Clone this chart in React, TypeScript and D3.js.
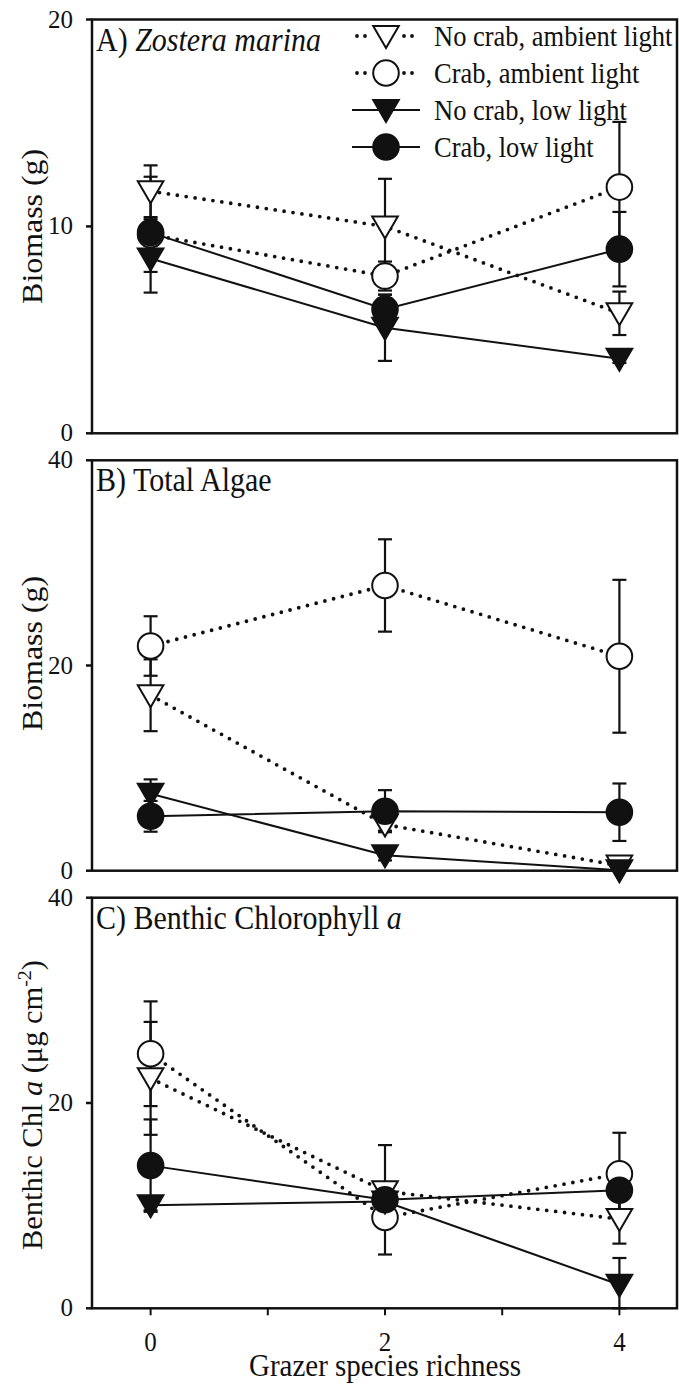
import React from "react";
import * as d3 from "d3";

// ---------- data ----------
const richness = [0, 2, 4];
const xTicksMajor = [0, 2, 4];
const xTicksMinor = [1, 3];
const seriesLabels = [
  "No crab, ambient light",
  "Crab, ambient light",
  "No crab, low light",
  "Crab, low light",
];

// Panel A: Zostera marina biomass (g)
const zosNoCrabAmb = [11.7, 10.0, 5.8];
const zosNoCrabAmbSE = [1.25, 2.3, 1.05];
const zosCrabAmb = [9.6, 7.6, 11.9];
const zosCrabAmbSE = [2.8, 0.7, 3.15];
const zosNoCrabLow = [8.45, 5.1, 3.6];
const zosNoCrabLowSE = [0.65, 1.6, 0.2];
const zosCrabLow = [9.7, 6.0, 8.9];
const zosCrabLowSE = [0.65, 0.7, 1.8];

// Panel B: Total algae biomass (g)
const algNoCrabAmb = [17.1, 4.5, 0.5];
const algNoCrabAmbSE = [3.5, 0.6, 0.2];
const algCrabAmb = [21.9, 27.8, 20.9];
const algCrabAmbSE = [2.9, 4.5, 7.45];
const algNoCrabLow = [7.5, 1.5, 0.05];
const algNoCrabLowSE = [1.4, 0.5, 0.2];
const algCrabLow = [5.3, 5.8, 5.7];
const algCrabLowSE = [1.5, 2.05, 2.8];

// Panel C: Benthic chlorophyll a (µg cm-2)
const chlNoCrabAmb = [22.4, 11.4, 8.7];
const chlNoCrabAmbSE = [5.5, 0.6, 2.4];
const chlCrabAmb = [24.8, 8.85, 13.1];
const chlCrabAmbSE = [5.1, 0.8, 4.0];
const chlNoCrabLow = [10.05, 10.4, 2.3];
const chlNoCrabLowSE = [0.5, 0.5, 2.6];
const chlCrabLow = [13.9, 10.57, 11.5];
const chlCrabLowSE = [4.5, 5.33, 2.5];

const yTicksA = [0, 10, 20];
const yTicksB = [0, 20, 40];
const yTicksC = [0, 20, 40];

// ---------- layout ----------
const W = 679;
const H = 1384;
const LEFT = 92;
const RIGHT = 677;
const FONT = "'Liberation Serif', 'Times New Roman', serif";
const SY = 1.12; // glyphs in the reference are vertically elongated

const x = d3.scaleLinear().domain([-0.5, 4.5]).range([LEFT, RIGHT + 1]);

type Kind = "triOpen" | "circOpen" | "triFill" | "circFill";
const kinds: Kind[] = ["triOpen", "circOpen", "triFill", "circFill"];

function T({
  x: tx,
  y: ty,
  size,
  anchor = "start",
  rotate = 0,
  sy = SY,
  children,
}: {
  x: number;
  y: number;
  size: number;
  anchor?: "start" | "middle" | "end";
  rotate?: number;
  sy?: number;
  children: React.ReactNode;
}) {
  return (
    <text
      transform={`translate(${tx},${ty}) scale(1,${sy})${rotate ? ` rotate(${rotate})` : ""}`}
      textAnchor={anchor}
      fontSize={size}
      fontFamily={FONT}
      fill="#111"
    >
      {children}
    </text>
  );
}

function Marker({ kind, cx, cy }: { kind: Kind; cx: number; cy: number }) {
  const fill = kind === "triOpen" || kind === "circOpen" ? "#fff" : "#111";
  if (kind === "circOpen" || kind === "circFill") {
    return <circle cx={cx} cy={cy} r={12.8} fill={fill} stroke="#111" strokeWidth={2} />;
  }
  const p = `M${cx - 12.8},${cy - 10}L${cx + 12.8},${cy - 10}L${cx},${cy + 12}Z`;
  return <path d={p} fill={fill} stroke="#111" strokeWidth={2} strokeLinejoin="miter" />;
}

const DOT = { strokeWidth: 3.8, strokeDasharray: "0 9", strokeLinecap: "round" as const };

function Panel({
  top,
  bottom,
  yMax,
  yTicks,
  means,
  ses,
  bottomAxis,
}: {
  top: number;
  bottom: number;
  yMax: number;
  yTicks: number[];
  means: number[][];
  ses: number[][];
  bottomAxis: boolean;
}) {
  const y = d3.scaleLinear().domain([0, yMax]).range([bottom, top]);
  const line = d3
    .line<number>()
    .x((_, i) => x(richness[i]))
    .y((v) => y(v));
  return (
    <g>
      <rect x={LEFT} y={top} width={RIGHT - LEFT} height={bottom - top} fill="none" stroke="#111" strokeWidth={2.5} />
      {yTicks.map((t) => (
        <g key={t}>
          <line x1={LEFT - 6} x2={LEFT} y1={y(t)} y2={y(t)} stroke="#111" strokeWidth={2.5} />
          <T x={73} y={y(t) + 8} size={25} anchor="end" sy={1}>
            {t}
          </T>
        </g>
      ))}
      {bottomAxis &&
        [...xTicksMajor, ...xTicksMinor].map((t) => (
          <line key={t} x1={x(t)} x2={x(t)} y1={bottom} y2={bottom + 7} stroke="#111" strokeWidth={2} />
        ))}
      {bottomAxis &&
        xTicksMajor.map((t) => (
          <T key={t} x={x(t)} y={bottom + 43} size={25} anchor="middle" sy={1.05}>
            {t}
          </T>
        ))}
      {means.map((m, si) => (
        <g key={si}>
          <path d={line(m) || ""} fill="none" stroke="#111" {...(si < 2 ? DOT : { strokeWidth: 2 })} />
          {m.map((v, i) => {
            const cx = x(richness[i]);
            const hi = y(v + ses[si][i]);
            const lo = y(Math.max(0, v - ses[si][i]));
            return (
              <g key={i}>
                <line x1={cx} x2={cx} y1={hi} y2={lo} stroke="#111" strokeWidth={2.2} />
                <line x1={cx - 7} x2={cx + 7} y1={hi} y2={hi} stroke="#111" strokeWidth={2.2} />
                <line x1={cx - 7} x2={cx + 7} y1={lo} y2={lo} stroke="#111" strokeWidth={2.2} />
              </g>
            );
          })}
        </g>
      ))}
      {means.map((m, si) =>
        m.map((v, i) => <Marker key={`${si}-${i}`} kind={kinds[si]} cx={x(richness[i])} cy={y(v)} />)
      )}
    </g>
  );
}

function Legend() {
  const rows = [36, 73, 110, 147];
  return (
    <g>
      {seriesLabels.map((lab, i) => (
        <g key={lab}>
          {i < 2 ? (
            <>
              <line x1={357} x2={370} y1={rows[i]} y2={rows[i]} stroke="#111" {...DOT} strokeDasharray="0 8" />
              <line x1={404} x2={417} y1={rows[i]} y2={rows[i]} stroke="#111" {...DOT} strokeDasharray="0 8" />
            </>
          ) : (
            <line x1={352} x2={420} y1={rows[i]} y2={rows[i]} stroke="#111" strokeWidth={2} />
          )}
          <Marker kind={kinds[i]} cx={386} cy={rows[i]} />
          <T x={434} y={rows[i] + 10} size={26.5}>
            {lab}
          </T>
        </g>
      ))}
    </g>
  );
}

export default function App() {
  const A = { top: 19.5, bottom: 433.3 };
  const B = { top: 460.3, bottom: 870.7 };
  const C = { top: 897.7, bottom: 1308.3 };
  return (
    <svg
      width={W}
      height={H}
      viewBox={`0 0 ${W} ${H}`}
      style={{ position: "absolute", left: 0, top: 0, background: "#fff" }}
    >
      <rect x={0} y={0} width={W} height={H} fill="#fff" />
      <Panel
        top={A.top}
        bottom={A.bottom}
        yMax={20}
        yTicks={yTicksA}
        means={[zosNoCrabAmb, zosCrabAmb, zosNoCrabLow, zosCrabLow]}
        ses={[zosNoCrabAmbSE, zosCrabAmbSE, zosNoCrabLowSE, zosCrabLowSE]}
        bottomAxis={false}
      />
      <Panel
        top={B.top}
        bottom={B.bottom}
        yMax={40}
        yTicks={yTicksB}
        means={[algNoCrabAmb, algCrabAmb, algNoCrabLow, algCrabLow]}
        ses={[algNoCrabAmbSE, algCrabAmbSE, algNoCrabLowSE, algCrabLowSE]}
        bottomAxis={false}
      />
      <Panel
        top={C.top}
        bottom={C.bottom}
        yMax={40}
        yTicks={yTicksC}
        means={[chlNoCrabAmb, chlCrabAmb, chlNoCrabLow, chlCrabLow]}
        ses={[chlNoCrabAmbSE, chlCrabAmbSE, chlNoCrabLowSE, chlCrabLowSE]}
        bottomAxis={true}
      />
      <Legend />
      <T x={96} y={A.top + 31} size={30}>
        A) <tspan fontStyle="italic">Zostera marina</tspan>
      </T>
      <T x={96} y={B.top + 31} size={30}>
        B) Total Algae
      </T>
      <T x={96} y={C.top + 31} size={30}>
        C) Benthic Chlorophyll <tspan fontStyle="italic">a</tspan>
      </T>
      <T x={42} y={(A.top + A.bottom) / 2} size={29} anchor="middle" rotate={-90} sy={1.1}>
        Biomass (g)
      </T>
      <T x={42} y={(B.top + B.bottom) / 2 - 12} size={29} anchor="middle" rotate={-90} sy={1.1}>
        Biomass (g)
      </T>
      <T x={42} y={(C.top + C.bottom) / 2 + 2} size={29} anchor="middle" rotate={-90} sy={1.05}>
        Benthic Chl <tspan fontStyle="italic">a</tspan> (μg cm<tspan dy={-11} fontSize={19}>-2</tspan>
        <tspan dy={11}>)</tspan>
      </T>
      <T x={(x(0) + x(4)) / 2} y={1376} size={29} anchor="middle" sy={1.08}>
        Grazer species richness
      </T>
    </svg>
  );
}
